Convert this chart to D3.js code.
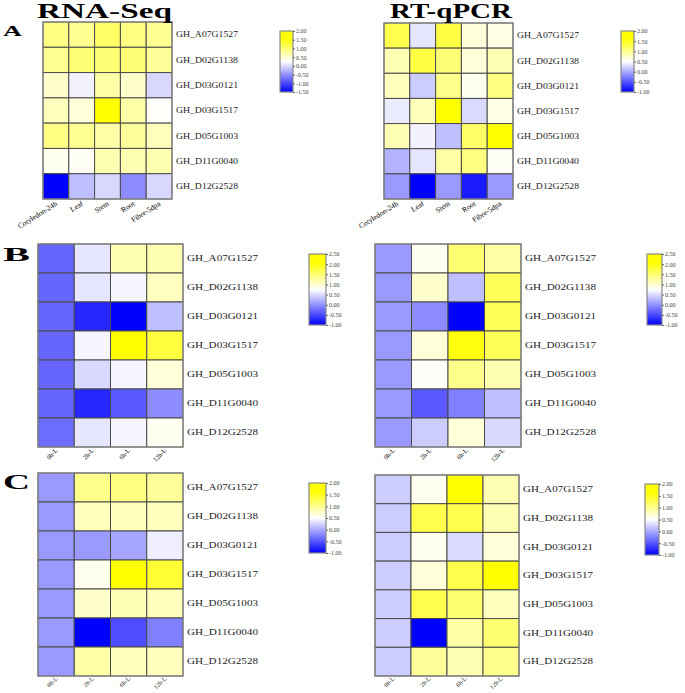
<!DOCTYPE html>
<html><head><meta charset="utf-8">
<script src="https://cdn.jsdelivr.net/npm/d3@7"></script>
<style>
html,body{margin:0;padding:0;background:#fff;}
svg{display:block;font-family:"Liberation Serif","Times New Roman",serif;}
</style></head>
<body>
<svg id="chart" width="685" height="693"></svg>
<script>
// ---------- data ----------
const genes = ["GH_A07G1527","GH_D02G1138","GH_D03G0121","GH_D03G1517","GH_D05G1003","GH_D11G0040","GH_D12G2528"];
const tissues = ["Cotyledon-24h","Leaf","Stem","Root","Fibre-5dpa"];
const timepoints = ["0h-L","2h-L","6h-L","12h-L"];

// rows = genes, columns = tissues / timepoints
const rnaSeqA = [
  [1.10, 1.00, 1.30, 1.10, 1.00],
  [1.00, 1.20, 1.20, 1.20, 0.95],
  [0.60, 0.16, 0.85, 0.60, -0.02],
  [0.70, 0.50, 2.00, 0.85, 0.28],
  [1.10, 1.00, 0.85, 0.95, 0.70],
  [0.35, 0.30, 0.78, 0.78, 0.78],
  [-1.50, -0.19, -0.02, -0.54, -0.02]
];
const qpcrA = [
  [1.55, 0.35, 1.60, 0.72, 0.65],
  [0.95, 1.60, 1.30, 0.72, 0.95],
  [0.88, 0.20, 1.18, 0.58, 1.25],
  [0.38, 0.88, 2.00, 0.28, 0.65],
  [0.95, 0.43, 0.13, 1.40, 2.00],
  [0.05, 0.35, 1.03, 1.25, 0.55],
  [-0.10, -1.00, -0.10, -0.85, -0.10]
];
const rnaSeqB = [
  [-0.30, 0.58, 1.28, 1.28],
  [-0.30, 0.58, 0.68, 1.19],
  [-0.30, -0.74, -1.00, 0.31],
  [-0.30, 0.68, 2.50, 2.06],
  [-0.30, 0.49, 0.68, 1.01],
  [-0.30, -0.74, -0.39, -0.04],
  [-0.25, 0.58, 0.68, 0.84]
];
const qpcrB = [
  [0.05, 0.84, 1.71, 1.36],
  [0.05, 1.10, 0.31, 1.89],
  [0.05, -0.04, -1.00, 1.89],
  [0.05, 1.01, 2.41, 1.89],
  [0.05, 0.79, 1.54, 1.28],
  [0.05, -0.39, -0.13, 0.31],
  [0.05, 0.40, 1.01, 0.49]
];
const rnaSeqC = [
  [-0.10, 1.18, 1.25, 1.10],
  [-0.10, 0.88, 0.88, 0.88],
  [-0.10, -0.10, -0.03, 0.40],
  [-0.10, 0.60, 2.00, 1.70],
  [-0.10, 0.80, 0.95, 0.88],
  [-0.10, -1.00, -0.55, -0.25],
  [-0.10, 1.03, 0.88, 0.88]
];
const qpcrC = [
  [0.20, 0.58, 2.00, 0.95],
  [0.20, 1.55, 1.55, 0.95],
  [0.20, 0.58, 0.28, 0.72],
  [0.20, 0.72, 1.55, 2.00],
  [0.20, 1.55, 1.33, 0.88],
  [0.20, -1.00, 1.03, 1.33],
  [0.20, 1.10, 0.95, 1.18]
];
// legend ranges (min, max) and tick labels
const legendA1 = [-1.5, 2.0];
const legendA2 = [-1.0, 2.0];
const legendB1 = [-1.0, 2.5];
const legendB2 = [-1.0, 2.5];
const legendC1 = [-1.0, 2.0];
const legendC2 = [-1.0, 2.0];
const ticksA1 = [2.0, 1.5, 1.0, 0.5, 0.0, -0.5, -1.0, -1.5];
const ticksA2 = [2.0, 1.5, 1.0, 0.5, 0.0, -0.5, -1.0];
const ticksB  = [2.5, 2.0, 1.5, 1.0, 0.5, 0.0, -0.5, -1.0];
const ticksC  = [2.0, 1.5, 1.0, 0.5, 0.0, -0.5, -1.0];

const titles = ["RNA-Seq", "RT-qPCR"];
const panelLetters = ["A", "B", "C"];

// ---------- drawing ----------
const svg = d3.select("#chart");
const defs = svg.append("defs");
let gid = 0;

function heatmap(o) {
  const g = svg.append("g");
  const x = d3.scaleBand().domain(o.cols).range([o.x0, o.x1]);
  const y = d3.scaleBand().domain(genes).range([o.y0, o.y1]);
  const mid = (o.dom[0] + o.dom[1]) / 2;
  const color = d3.scaleLinear().domain([o.dom[0], mid, o.dom[1]])
    .range(["#0000ff", "#ffffff", "#ffff00"]).clamp(true);

  const cells = [];
  o.data.forEach((row, i) => row.forEach((v, j) => cells.push({g: genes[i], c: o.cols[j], v})));
  g.selectAll("rect.cell").data(cells).join("rect")
    .attr("class", "cell")
    .attr("x", d => x(d.c)).attr("y", d => y(d.g))
    .attr("width", x.bandwidth()).attr("height", y.bandwidth())
    .attr("fill", d => color(d.v))
    .attr("stroke", "#4a4a4a").attr("stroke-width", 1);
  g.append("rect").attr("x", o.x0).attr("y", o.y0)
    .attr("width", o.x1 - o.x0).attr("height", o.y1 - o.y0)
    .attr("fill", "none").attr("stroke", "#8a8a8a").attr("stroke-width", 1.2);

  // row labels
  g.selectAll("text.row").data(genes).join("text")
    .attr("class", "row")
    .attr("x", o.x1 + 4).attr("y", d => y(d) + y.bandwidth() / 2)
    .attr("dy", "0.35em")
    .attr("font-size", 8).attr("fill", "#222")
    .attr("textLength", o.labW).attr("lengthAdjust", "spacingAndGlyphs")
    .text(d => d);

  // column labels
  g.selectAll("text.col").data(o.cols).join("text")
    .attr("class", "col")
    .attr("text-anchor", "end")
    .attr("font-size", o.colFont).attr("fill", "#000")
    .attr("transform", d => `translate(${x(d) + x.bandwidth() / 2 + 2},${o.y1 + o.colOff}) rotate(${o.rot})`)
    .text(d => d);

  // legend
  const id = "grad" + (gid++);
  const grad = defs.append("linearGradient").attr("id", id)
    .attr("x1", 0).attr("y1", 0).attr("x2", 0).attr("y2", 1);
  grad.append("stop").attr("offset", "0%").attr("stop-color", "#ffff00");
  grad.append("stop").attr("offset", "12%").attr("stop-color", "#ffff00");
  grad.append("stop").attr("offset", "50%").attr("stop-color", "#ffffff");
  grad.append("stop").attr("offset", "100%").attr("stop-color", "#0000ff");
  const L = o.leg;
  g.append("rect").attr("x", L.x).attr("y", L.y0)
    .attr("width", L.w).attr("height", L.y1 - L.y0)
    .attr("fill", `url(#${id})`).attr("stroke", "#888").attr("stroke-width", 1.2);
  const ly = d3.scaleLinear().domain([o.ticks[o.ticks.length - 1], o.ticks[0]]).range([L.y1, L.y0]);
  const ax = g.append("g").attr("transform", `translate(${L.x + L.w},0)`)
    .call(d3.axisRight(ly).tickValues(o.ticks).tickSize(2).tickPadding(1)
      .tickFormat(d => d.toFixed(2)));
  ax.select(".domain").remove();
  ax.selectAll("line").attr("stroke", "#666");
  ax.selectAll("text").attr("font-size", 6).attr("fill", "#444")
    .attr("font-family", "Liberation Serif, serif");
}

const panels = [
  {data: rnaSeqA, cols: tissues, dom: legendA1, ticks: ticksA1, x0: 43, x1: 172, y0: 22, y1: 199, labW: 62, colFont: 7.5, rot: -32, colOff: 6,
   leg: {x: 280, w: 13, y0: 31, y1: 92}},
  {data: qpcrA, cols: tissues, dom: legendA2, ticks: ticksA2, x0: 384, x1: 513, y0: 23, y1: 199, labW: 62, colFont: 7.5, rot: -32, colOff: 6,
   leg: {x: 621, w: 13, y0: 31, y1: 92}},
  {data: rnaSeqB, cols: timepoints, dom: legendB1, ticks: ticksB, x0: 38, x1: 183, y0: 244, y1: 447, labW: 71, colFont: 6.5, rot: -45, colOff: 4,
   leg: {x: 309, w: 17, y0: 254, y1: 325}},
  {data: qpcrB, cols: timepoints, dom: legendB2, ticks: ticksB, x0: 375, x1: 521, y0: 244, y1: 447, labW: 71, colFont: 6.5, rot: -45, colOff: 4,
   leg: {x: 647, w: 15, y0: 254, y1: 325}},
  {data: rnaSeqC, cols: timepoints, dom: legendC1, ticks: ticksC, x0: 38, x1: 183, y0: 473, y1: 676, labW: 71, colFont: 6.2, rot: -45, colOff: 3,
   leg: {x: 309, w: 17, y0: 483, y1: 553}},
  {data: qpcrC, cols: timepoints, dom: legendC2, ticks: ticksC, x0: 375, x1: 519, y0: 475, y1: 676, labW: 70, colFont: 6.2, rot: -45, colOff: 3,
   leg: {x: 645, w: 14, y0: 484, y1: 555}}
];
panels.forEach(heatmap);

// titles
svg.append("text").attr("x", 37).attr("y", 18).attr("font-size", 20).attr("font-weight", "bold")
  .attr("textLength", 135).attr("lengthAdjust", "spacingAndGlyphs").text(titles[0]);
svg.append("text").attr("x", 390).attr("y", 18).attr("font-size", 20).attr("font-weight", "bold")
  .attr("textLength", 122).attr("lengthAdjust", "spacingAndGlyphs").text(titles[1]);

// panel letters
const letterPos = [{x: 3, y: 36, s: 14, w: 19}, {x: 3, y: 261, s: 19, w: 27}, {x: 3, y: 489, s: 20, w: 27}];
panelLetters.forEach((t, i) => {
  svg.append("text").attr("x", letterPos[i].x).attr("y", letterPos[i].y)
    .attr("font-size", letterPos[i].s).attr("font-weight", "bold")
    .attr("textLength", letterPos[i].w).attr("lengthAdjust", "spacingAndGlyphs").text(t);
});
</script>
</body></html>
